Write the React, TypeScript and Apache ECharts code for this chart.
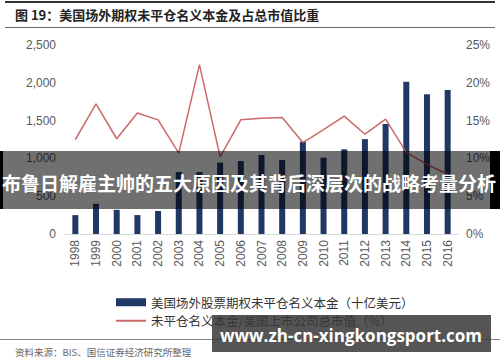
import React, { useEffect, useRef } from "react";
import * as echarts from "echarts";

const years = ["1998","1999","2000","2001","2002","2003","2004","2005","2006","2007","2008","2009","2010","2011","2012","2013","2014","2015","2016"];
const notional = [250, 400, 320, 250, 305, 820, 820, 945, 965, 1045, 980, 1220, 1010, 1120, 1255, 1455, 2015, 1850, 1905];
const ratio = [12.5, 17.2, 12.6, 16.0, 15.1, 10.7, 22.4, 10.2, 15.1, 15.3, 15.4, 12.1, 13.8, 15.6, 13.2, 15.2, 10.8, 9.2, 7.9];

const titleText = "图 19：美国场外期权未平仓名义本金及占总市值比重";
const barName = "美国场外股票期权未平仓名义本金（十亿美元）";
const lineName = "未平仓名义本金/美国上市公司总市值（%）";
const sourceText = "资料来源：BIS、国信证券经济研究所整理";
const bannerText = "布鲁日解雇主帅的五大原因及其背后深层次的战略考量分析";
const watermarkText = "www.zh-cn-xingkongsport.com";

const CJK = '"Noto Sans CJK SC", "Noto Sans", sans-serif';
const LAT = '"Liberation Sans", Arial, sans-serif';

export default function App() {
  const ref = useRef<HTMLDivElement>(null);
  useEffect(() => {
    if (!ref.current) return;
    const chart = echarts.init(ref.current, null, { renderer: "svg" });
    chart.setOption({
      animation: false,
      backgroundColor: "#ffffff",
      grid: { left: 65, right: 42, top: 45, bottom: 128 },
      legend: {
        orient: "vertical",
        left: 110,
        top: 291,
        itemWidth: 30,
        itemHeight: 8,
        itemGap: 6,
        textStyle: { fontFamily: CJK, fontSize: 12.5, color: "#333" },
        data: [
          { name: barName, icon: "rect" },
          { name: lineName, itemStyle: { opacity: 0 } },
        ],
      },
      xAxis: {
        type: "category",
        data: years,
        axisLine: { lineStyle: { color: "#d9d9d9" } },
        axisTick: { show: false },
        axisLabel: { rotate: 90, color: "#595959", fontFamily: LAT, fontSize: 12, margin: 6 },
      },
      yAxis: [
        {
          type: "value",
          min: 0,
          max: 2500,
          interval: 500,
          splitLine: { show: false },
          axisLine: { show: false },
          axisTick: { show: false },
          axisLabel: {
            color: "#595959",
            fontFamily: LAT,
            fontSize: 12,
            margin: 9,
            formatter: (v: number) => v.toLocaleString("en-US"),
          },
        },
        {
          type: "value",
          min: 0,
          max: 25,
          interval: 5,
          splitLine: { show: false },
          axisLine: { show: false },
          axisTick: { show: false },
          axisLabel: { color: "#595959", fontFamily: LAT, fontSize: 12, margin: 8, formatter: "{value}%" },
        },
      ],
      series: [
        {
          name: barName,
          type: "bar",
          data: notional,
          barWidth: 6,
          itemStyle: { color: "#1f3864" },
        },
        {
          name: lineName,
          type: "line",
          yAxisIndex: 1,
          data: ratio,
          symbol: "none",
          lineStyle: { color: "#c0504d", width: 1.5, opacity: 0.85 },
          itemStyle: { color: "#c0504d" },
        },
      ],
      graphic: [
        { type: "rect", shape: { x: 5, y: 1, width: 490, height: 2 }, style: { fill: "#333" } },
        { type: "rect", shape: { x: 5, y: 27, width: 490, height: 1 }, style: { fill: "#666" } },
        {
          type: "text",
          x: 15,
          y: 14,
          style: { text: titleText, fontFamily: CJK, fontSize: 13, fontWeight: "bold", fill: "#222", textVerticalAlign: "middle" },
        },
        { type: "rect", shape: { x: 0, y: 339, width: 500, height: 1 }, style: { fill: "#888" } },
        {
          type: "text",
          x: 15,
          y: 352,
          style: { text: sourceText, fontFamily: CJK, fontSize: 9.5, fill: "#666", textVerticalAlign: "middle" },
        },
        { type: "rect", shape: { x: 0, y: 151, width: 500, height: 58 }, style: { fill: "rgba(0,0,0,0.56)" }, z: 100 },
        { type: "rect", shape: { x: 0, y: 151, width: 3, height: 58 }, style: { fill: "#000" }, z: 101 },
        { type: "rect", shape: { x: 490, y: 151, width: 10, height: 58 }, style: { fill: "#000" }, z: 101 },
        {
          type: "text",
          x: 249,
          y: 182,
          z: 102,
          style: {
            text: bannerText,
            fontFamily: CJK,
            fontSize: 19,
            fontWeight: "bold",
            fill: "#ffffff",
            textAlign: "center",
            textVerticalAlign: "middle",
          },
        },
        { type: "rect", shape: { x: 212, y: 315, width: 279, height: 37 }, style: { fill: "rgba(55,55,55,0.85)" }, z: 100 },
        {
          type: "text",
          x: 351,
          y: 335,
          z: 102,
          style: {
            text: watermarkText,
            fontFamily: '"Open Sans", "Noto Sans", sans-serif',
            fontSize: 17,
            fontWeight: "bold",
            fill: "#ffffff",
            textAlign: "center",
            textVerticalAlign: "middle",
          },
        },
      ],
    });
    return () => chart.dispose();
  }, []);
  return <div ref={ref} style={{ width: 500, height: 362, position: "absolute", left: 0, top: 0 }} />;
}
